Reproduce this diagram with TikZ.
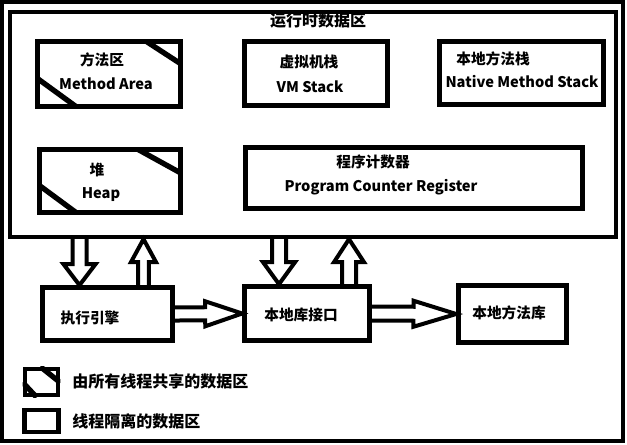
\documentclass[tikz,border=0pt]{standalone}
\usepackage{fontspec}
\newfontfamily\cjk{Noto Sans CJK SC}
\usetikzlibrary{calc}
\newcommand{\fatarrow}[5]{%
  \coordinate (fa) at ($(#2)!#5!(#1)$);
  \draw[fat] ($(#1)!#3!90:(#2)$) -- ($(fa)!#3!90:(#2)$) -- ($(fa)!#4!90:(#2)$) -- (#2)
    -- ($(fa)!#4!-90:(#2)$) -- ($(fa)!#3!-90:(#2)$) -- ($(#1)!#3!-90:(#2)$);}
\newcommand{\hatchbox}[5]{%
  \begin{scope}
    \clip (#1.north west) rectangle (#1.south east);
    \draw[hatch] ($(#1.north east)+(-#2,0)$) -- ($(#1.north east)+(0,#3)$);
    \draw[hatch] ($(#1.south west)+(0,-#4)$) -- ($(#1.south west)+(#5,0)$);
  \end{scope}}

\begin{document}
\begin{tikzpicture}[x=0.75pt,y=-0.75pt,font=\cjk\bfseries\fontsize{11}{13}\selectfont,
  box/.style={draw,line width=3.5pt,inner sep=0pt},
  frame/.style={draw,line width=3pt,inner sep=0pt},
  hatch/.style={line width=4pt},
  fat/.style={line width=3pt,line join=miter},
  txt/.style={inner sep=0pt},
  big/.style={font=\cjk\bfseries\fontsize{12}{14}\selectfont}]
  \useasboundingbox (0,0) rectangle (627,445);
  \node[frame,minimum width=465.75pt,minimum height=329.25pt] (jvm) at (312.5,221.5) {};
  \node[frame,minimum width=454.5pt,minimum height=169pt] (rtda) at (313,124.5) {};
  \node[txt,big] (rtda-t) at (318,21) {运行时数据区};

  \node[box,minimum width=107.25pt,minimum height=48.75pt] (method) at (109,74) {};
  \node[box,minimum width=107.25pt,minimum height=48pt] (vm) at (316,73.5) {};
  \node[box,minimum width=123pt,minimum height=47.25pt] (native) at (521.5,73) {};
  \node[box,minimum width=105.75pt,minimum height=47.25pt] (heap) at (110,181) {};
  \node[box,minimum width=252.75pt,minimum height=45.75pt] (pc) at (414,178) {};
  \hatchbox{method}{40}{26}{32}{44}
  \hatchbox{heap}{49}{27}{31}{42}

  \node[txt] (method-cn) at (102,60) {方法区};
  \node[txt] (method-en) at (106,84) {Method Area};
  \node[txt] (vm-cn) at (309,62) {虚拟机栈};
  \node[txt] (vm-en) at (310,87) {VM Stack};
  \node[txt] (native-cn) at (493,59) {本地方法栈};
  \node[txt] (native-en) at (522,82) {Native Method Stack};
  \node[txt] (heap-cn) at (97,170) {堆};
  \node[txt] (heap-en) at (101,195) {Heap};
  \node[txt] (pc-cn) at (373,162) {程序计数器};
  \node[txt] (pc-en) at (381,187) {Program Counter Register};

  \node[box,minimum width=97.5pt,minimum height=39.75pt] (exec) at (107.5,314) {};
  \node[box,minimum width=93.75pt,minimum height=40.5pt] (iface) at (307,313.5) {};
  \node[box,minimum width=81pt,minimum height=42.75pt] (lib) at (512.5,314) {};
  \node[txt] (exec-t) at (90,318) {执行引擎};
  \node[txt] (iface-t) at (301,315) {本地库接口};
  \node[txt] (lib-t) at (509,313) {本地方法库};

  \coordinate (c1) at (79.5,0);
  \coordinate (c2) at (143.5,0);
  \coordinate (c3) at (279,0);
  \coordinate (c4) at (349,0);
  \fatarrow{rtda.south -| c1}{exec.north -| c1}{5.25pt}{12pt}{15.75pt}
  \fatarrow{exec.north -| c2}{rtda.south -| c2}{4.1pt}{9.4pt}{17.25pt}
  \fatarrow{rtda.south -| c3}{iface.north -| c3}{5.25pt}{12pt}{16.5pt}
  \fatarrow{iface.north -| c4}{rtda.south -| c4}{5.25pt}{11.25pt}{17.25pt}
  \fatarrow{exec.east}{iface.west}{4.9pt}{9.4pt}{27.75pt}
  \fatarrow{iface.east}{lib.west}{5.25pt}{9.75pt}{32pt}

  \node[box,minimum width=24.75pt,minimum height=19.5pt] (shared) at (41.5,382) {};
  \hatchbox{shared}{20}{16}{15}{14}
  \node[box,minimum width=25.5pt,minimum height=16.5pt] (private) at (41.5,421) {};
  \node[txt,big,anchor=west] (shared-t) at (72,381) {由所有线程共享的数据区};
  \node[txt,big,anchor=west] (private-t) at (72,421) {线程隔离的数据区};
\end{tikzpicture}
\end{document}
